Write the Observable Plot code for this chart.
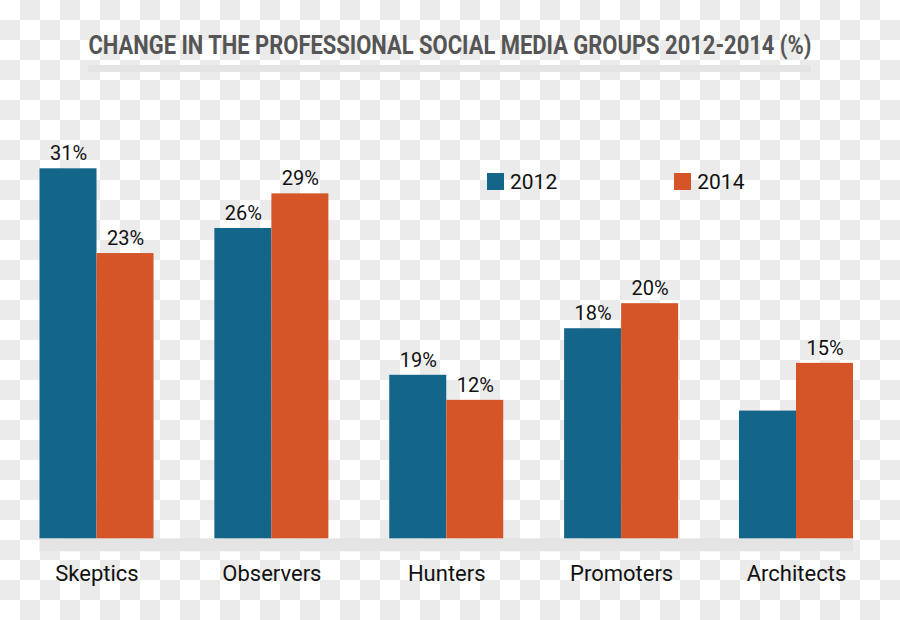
<!DOCTYPE html>
<html>
<head>
<meta charset="utf-8">
<script src="https://cdn.jsdelivr.net/npm/d3@7"></script>
<script src="https://cdn.jsdelivr.net/npm/@observablehq/plot@0.6"></script>
<style>
  html, body { margin: 0; padding: 0; }
  body {
    width: 900px; height: 620px; position: relative; overflow: hidden;
    background-color: #ffffff;
    background-image: conic-gradient(#ebebeb 0 25%, #ffffff 0 50%, #ebebeb 0 75%, #ffffff 0);
    background-size: 40px 40px;
    background-position: 0 0;
    font-family: Roboto, "Noto Sans", sans-serif;
  }
  #title {
    position: absolute; left: 0; top: 31px; width: 900px; text-align: center;
    font-family: Roboto, sans-serif; font-weight: 700; font-size: 25px; line-height: 30px;
    color: #555555; white-space: nowrap;
  }
  #title span { display: inline-block; transform-origin: 50% 50%; }
  #underline { position: absolute; left: 88px; top: 65px; width: 723px; height: 7px; background: #e4e4e4; }
  #chart { position: absolute; left: 0; top: 80px; }
  #legend { position: absolute; left: 487px; top: 165px; }
  .lg-swatch { margin-right: 117px !important; }
  .lg-swatch > svg { margin-right: 6px !important; }
</style>
</head>
<body>
<div id="title"><span>CHANGE IN THE PROFESSIONAL SOCIAL MEDIA GROUPS 2012-2014 (%)</span></div>
<div id="underline"></div>
<div id="legend"></div>
<div id="chart"></div>
<script>
// Data
const categories = ["Skeptics", "Observers", "Hunters", "Promoters", "Architects"];
const years = ["2012", "2014"];
// bar heights as drawn (percent units)
const values2012 = [31, 26, 13.7, 17.6, 10.7];
const values2014 = [23.9, 28.9, 11.6, 19.7, 14.7];
// printed labels
const labels2012 = ["31%", "26%", "19%", "18%", ""];
const labels2014 = ["23%", "29%", "12%", "20%", "15%"];
const colors = ["#13658a", "#d65528"];

// condense the title to the reference's width
const tspan = document.querySelector("#title span");
const natural = tspan.getBoundingClientRect().width;
tspan.style.transform = `scaleX(${723 / natural})`;

const rows = [];
categories.forEach((c, i) => {
  rows.push({group: c, year: years[0], value: values2012[i], label: labels2012[i]});
  rows.push({group: c, year: years[1], value: values2014[i], label: labels2014[i]});
});

const plot = Plot.plot({
  width: 900,
  height: 540,
  marginTop: 88.3,
  marginBottom: 81.7,
  marginLeft: 39.5,
  marginRight: 47,
  style: {background: "transparent", fontFamily: "Roboto, sans-serif", fontSize: "22px", color: "#111111"},
  fx: {domain: categories, paddingInner: 0.348, paddingOuter: 0, round: false, axis: "bottom", tickSize: 0, tickPadding: 27, label: null},
  x: {domain: years, padding: 0, round: false, axis: null},
  y: {domain: [0, 31], axis: null},
  color: {domain: years, range: colors},
  marks: [
    Plot.barY(rows, {fx: "group", x: "year", y: "value", fill: "year"}),
    Plot.text(rows.filter(d => d.label), {fx: "group", x: "year", y: "value", text: "label", dy: -15, fontSize: 20, fill: "#111111"})
  ]
});
document.getElementById("chart").appendChild(plot);

// grey base band under the bars
const fxs = plot.scale("fx");
const ys = plot.scale("y");
const y0 = ys.apply(0);
d3.select(plot).insert("rect", ":first-child")
  .attr("x", fxs.range[0])
  .attr("width", fxs.range[1] - fxs.range[0])
  .attr("y", y0)
  .attr("height", 13)
  .attr("fill", "#e4e4e4");

const legend = Plot.legend({
  color: {domain: years, range: colors},
  swatchSize: 17,
  className: "lg",
  style: {fontSize: "21px", fontFamily: "Roboto, sans-serif", color: "#111111", background: "transparent"}
});
document.getElementById("legend").appendChild(legend);
</script>
</body>
</html>
